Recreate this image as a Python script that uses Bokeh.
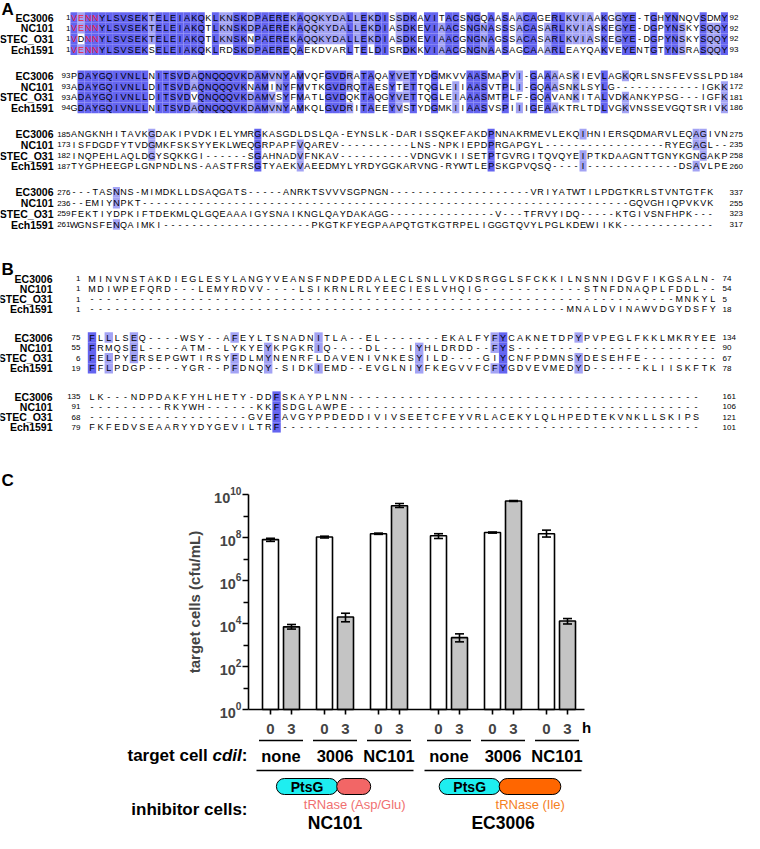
from bokeh.plotting import figure
from bokeh.models import Range1d, FixedTicker
from bokeh.embed import file_html
from bokeh.resources import INLINE
from bokeh.core.properties import value

FONT = "Liberation Sans"
NAMES = ["EC3006", "NC101", "STEC_O31", "Ech1591"]

# ---------------- Panel A alignment ----------------
A1_SEQ = [
    "VENNYLSVSEKTELEIAKQKLKNSKDPAEREKAQQKYDALLEKDISSDKAVITACSNGQAASAACAGERLKVIAAKGGYE-TGHYNNQVSDMY",
    "VENNYLSVSEKTELEIAKQTLKNSKDPAEREKAQQKYDALLEKDIASDKEVIAACSNGNASSSACASARLKVIASKEGYE-DGPYNSKYSQQY",
    "VDNNYLSVSEKTELEIAKQTLKNSKNPAEREKAQQKYDALLEKDIASDKEVIAACGNGNAGSSACASARLKVIASKEGYE-DGPYNSKYSQQY",
    "VENNYLSVSEKSELEIAKQKLRDSKDPAEREQAEKDVARLTELDISRDKKVIAACGNGNAASAGCAAARLEAYQAKVEYENTGTYNSRASQQY",
]
A1_START = [1, 1, 1, 1]
A1_END = [92, 92, 92, 93]
A1_MOTIF = "VENN"

A2_SEQ = [
    "PDAYGQIVNLLNITSVDAQNQQQVKDAMVNYAMVQFGVDRATAQAYVETYDGMKVVAASMAPVI-GAAAASKIEVLAGKQRLSNSFEVSSLPD",
    "ADAYGQIVNLLDITSVDAQNQQQVKNAMINYFMVTKGVDRQTAESYTETTQGLEIIAASVTPLI-GQAASNKLSYLG" + "-" * 12 + "IGKK",
    "ADAYGQIVNLLDITSVDVQNQQQVKDAMVSYFMATLGVDQKTAQGYVETTQGLEIAAASMTPLF-GQAVANKITALVDKANKYPSG---IGFK",
    "GDAYGQIVNLLNITSVDAQNQQQVKDAMVNYAMKQLGVDRITAEEYVSTYDGMKIIAASVSPIIIGEAAKTRLTDLVGKVNSSEVGQTSRIVK",
]
A2_START = [93, 93, 93, 94]
A2_END = [184, 172, 181, 186]

A3_SEQ = [
    "ANGKNHITAVKGDAKIPVDKIELYMRGKASGDLDSLQA-EYNSLK-DARISSQKEFAKDPNNAKRMEVLEKQIHNIERSQDMARVLEQAGIVN",
    "ISFDGDFYTVDGMKFSKSYYEKLWEQGRPAPFVQAREV" + "-" * 10 + "LNS-NPKIEPDPRGAPGYL" + "-" * 17 + "RYEGAGL--",
    "INQPEHLAQLDGYSQKKGI" + "-" * 6 + "SGAHNADVFNKAV" + "-" * 10 + "VDNGVKIISETPTGVRGITQVQYEIPTKDAAGNTTGNYKGNGAKP",
    "TYGPHEEGPLGNPNDLNS-AASTFRSGTYAEKVAEEDMYLYRDYGGKARVNG-RYWTLEPSKGPVQSQ----I" + "-" * 13 + "DSAVLPE",
]
A3_START = [185, 173, 182, 187]
A3_END = [275, 235, 258, 260]

A4_SEQ = [
    "---TASNNS-MIMDKLLDSAQGATS-----ANRKTSVVVSGPNGN" + "-" * 20 + "VRIYATWTILPDGTKRLSTVNTGTFK",
    "--EMIYNPKT" + "-" * 69 + "GQVGHIQPVKVK",
    "FEKTIYDPKIFTDEKMLQLGQEAAAIGYSNAIKNGLQAYDAKAGG" + "-" * 15 + "V---TFRVYIDQ-----KTGIVSNFHPK---",
    "WGNSFENQAIMKI" + "-" * 21 + "PKGTKFYEGPAAPQTGTKGTRPELIGGGTQVYLPGLKDEWIIKK" + "-" * 13,
]
A4_START = [276, 236, 259, 261]
A4_END = [337, 255, 323, 317]

# ---------------- Panel B alignment ----------------
B1_SEQ = [
    "MINVNSTAKDIEGLESYLANGYVEANSFNDPEDDALECLSNLLVKDSRGGLSFCKKILNSNNIDGVFIKGSALN-",
    "MDIWPEFQRD---LEMYRDVV----LSIKRNLRLYEECIESLVHQIG" + "-" * 12 + "STNFDNAQPLFDDL--",
    "-" * 70 + "MNKYL",
    "-" * 57 + "MNALDVINAWVDGYDSFY",
]
B1_START = [1, 1, 1, 1]
B1_END = [74, 54, 5, 18]

B2_SEQ = [
    "FLLLSEQ----WSY--AFEYLTSNADNITLA--EL-------EKALFYFYCAKNETDPYPVPEGLFKKLMKRYEE",
    "FRMQSEL----ATM--LYKYEYKPGKRIQ----DL---IYHLDRDD--FYS" + "-" * 24,
    "FELPYERSEPGWTIRSYFDLMYNENRFLDAVENIVNKESYILD----GIYCNFPDMNSYDESEHFE" + "-" * 9,
    "FFLPDGP----YGR--PFDNQY-SIDKIEMD--EVGLNIYFKEGVVFCFYGDVEVMEDYD------KLIISKFTK",
]
B2_START = [75, 55, 6, 19]
B2_END = [134, 90, 67, 78]

B3_SEQ = [
    "LK---NDPDAKFYHLHETY-DDFSKAYPLNN" + "-" * 42,
    "-" * 9 + "RKYWH------KKFSDGLAWPE" + "-" * 42,
    "-" * 19 + "GVEFAVGYPPDEDDIVIVSEETCFEYVRLACEKYLQLHPEDTEKVNKLLSKIPS",
    "FKFEDVSEAARYYDYGEVILTRF" + "-" * 50,
]
B3_START = [135, 91, 68, 79]
B3_END = [161, 106, 121, 101]

# ---------------- Panel C data ----------------
INHIBITORS = ["NC101", "EC3006"]
INHIBITOR_TRNASE = ["tRNase (Asp/Glu)", "tRNase (Ile)"]
TARGETS = ["none", "3006", "NC101"]
TIMES = ["0", "3"]
CFU_0H = [8.0e7, 1.05e8, 1.5e8, 1.2e8, 1.7e8, 1.5e8]
CFU_0H_LO = [6.6e7, 9.5e7, 1.4e8, 9.0e7, 1.6e8, 1.05e8]
CFU_0H_HI = [9.2e7, 1.15e8, 1.6e8, 1.5e8, 1.8e8, 2.2e8]
CFU_3H = [7.0e3, 2.0e4, 3.0e9, 2.2e3, 5.0e9, 1.3e4]
CFU_3H_LO = [5.5e3, 1.2e4, 2.5e9, 1.4e3, 4.7e9, 9.5e3]
CFU_3H_HI = [9.0e3, 3.0e4, 3.8e9, 3.3e3, 5.3e9, 1.7e4]
Y_TICKS = [1e0, 1e2, 1e4, 1e6, 1e8, 1e10]
Y_MINOR = [1e1, 1e3, 1e5, 1e7, 1e9]

# ---------------- styling ----------------
SHADE = {4: "#6464f0", 3: "#a3a3f4"}
MOTIF_RED = "#e8203a"
CYAN = "#1eeef0"
TRNASE_FILL = ["#f26666", "#ff6600"]
TRNASE_TEXT = ["#f07070", "#f5801e"]

W = 744
Y_SPLIT = 470     # ref y where the alignment figure ends
Y_BOTTOM = 841


def txt(p, x, y, text, size, align="center", style="normal", color="black"):
    p.text(x=x, y=y, text=text, text_font=value(FONT), text_font_size=size,
           text_font_style=style, text_color=color, text_align=align, text_baseline="middle")


def block(p, seqs, starts, ends, y0, geo, motif=""):
    x0, dx, dy, name_x, num_x, end_x, fs = geo
    ncol = max(len(s) for s in seqs)
    seqs = [s.ljust(ncol, "-") for s in seqs]
    rx, ry, rc = [], [], []
    tx, ty, tt, tc = [], [], [], []
    for c in range(ncol):
        col = [s[c] for s in seqs]
        counts = {}
        for ch in col:
            if ch != "-":
                counts[ch] = counts.get(ch, 0) + 1
        for r, ch in enumerate(col):
            x = x0 + c * dx
            y = y0 + r * dy
            n = counts.get(ch, 0)
            if n >= 3:
                rx.append(x); ry.append(y); rc.append(SHADE[n])
            tx.append(x); ty.append(y); tt.append(ch)
            tc.append(MOTIF_RED if (c < len(motif) and ch == motif[c]) else "black")
    p.rect(x=rx, y=ry, width=dx, height=dy, fill_color=rc, line_color=None)
    p.text(x=tx, y=ty, text=tt, text_color=tc, text_font=value(FONT), text_font_size=fs,
           text_align="center", text_baseline="middle")
    ys = [y0 + r * dy for r in range(len(seqs))]
    txt(p, [name_x] * len(ys), ys, NAMES, "10.5px", align="right", style="bold")
    txt(p, [num_x] * len(ys), ys, [str(v) for v in starts], "8px", align="right")
    txt(p, [end_x] * len(ys), ys, [str(v) for v in ends], "8px", align="left")


# ---------------- figure 1: panels A and B ----------------
pab = figure(width=W, height=Y_SPLIT - 8, x_range=Range1d(8, 752), y_range=Range1d(Y_SPLIT, 8),
             output_backend="svg", toolbar_location=None, min_border=0,
             x_axis_location=None, y_axis_location=None)
pab.grid.visible = False
pab.outline_line_color = None

A_GEO = (81.5, 7.07, 10.7, 61, 78, 737, "9px")
B_GEO = (99.5, 8.39, 10.3, 60, 88, 730, "9px")
A_Y0, A_PITCH = 25, 58.3
B_Y0, B_PITCH = 286, 59

for i, (s, a, b) in enumerate([(A1_SEQ, A1_START, A1_END), (A2_SEQ, A2_START, A2_END),
                               (A3_SEQ, A3_START, A3_END), (A4_SEQ, A4_START, A4_END)]):
    block(pab, s, a, b, A_Y0 + i * A_PITCH, A_GEO, motif=A1_MOTIF if i == 0 else "")
for i, (s, a, b) in enumerate([(B1_SEQ, B1_START, B1_END), (B2_SEQ, B2_START, B2_END),
                               (B3_SEQ, B3_START, B3_END)]):
    block(pab, s, a, b, B_Y0 + i * B_PITCH, B_GEO)

txt(pab, [9, 9], [17, 277], ["A", "B"], "17px", align="left", style="bold")

# ---------------- figure 2: panel C ----------------
Y10_PX, Y0_PX = 502, 717
DEC = (Y0_PX - Y10_PX) / 10.0


def ly(py):
    return 10 ** ((Y0_PX - py) / DEC)


AXIS_X = 256
X_FIRST, PAIR_DX, GROUP_DX, SET_GAP, BAR_W = 277.6, 21.2, 54.3, 5, 16
xw, xg = [], []
for i in range(len(CFU_0H)):
    x = X_FIRST + i * GROUP_DX + (i // len(TARGETS)) * SET_GAP
    xw.append(round(x))
    xg.append(round(x + PAIR_DX))

pc = figure(width=W, height=Y_BOTTOM - Y_SPLIT, x_range=Range1d(8, 752),
            y_range=Range1d(ly(Y_BOTTOM), ly(Y_SPLIT)),
            y_axis_type="log", output_backend="svg", toolbar_location=None, min_border=0)
pc.grid.visible = False
pc.outline_line_color = None

ax = pc.yaxis[0]
ax.fixed_location = AXIS_X
ax.bounds = (Y_TICKS[0], Y_TICKS[-1])
ax.ticker = FixedTicker(ticks=Y_TICKS, minor_ticks=Y_MINOR)
ax.axis_label = "target cells (cfu/mL)"
ax.axis_label_text_font = FONT
ax.axis_label_text_font_size = "15px"
ax.axis_label_text_font_style = "bold"
ax.axis_label_standoff = 8
ax.major_label_text_font = FONT
ax.major_label_text_font_size = "14.5px"
ax.major_label_text_font_style = "bold"
ax.major_label_standoff = 1
ax.axis_line_width = 1.6
ax.major_tick_line_width = 1.6
ax.minor_tick_line_width = 1.6
ax.major_tick_in = 0
ax.major_tick_out = 6
ax.minor_tick_in = 0
ax.minor_tick_out = 5

bx = pc.xaxis[0]
bx.fixed_location = Y_TICKS[0]
bx.bounds = (AXIS_X, xg[-1] + 17)
bx.ticker = FixedTicker(ticks=xw + xg)
bx.major_label_overrides = {**{x: TIMES[0] for x in xw}, **{x: TIMES[1] for x in xg}}
bx.major_label_text_font = FONT
bx.major_label_text_font_size = "15px"
bx.major_label_text_font_style = "bold"
bx.major_label_standoff = 9
bx.axis_line_width = 1.6
bx.major_tick_line_width = 1.6
bx.major_tick_in = 0
bx.major_tick_out = 5
bx.minor_tick_out = 0
bx.minor_tick_in = 0

pc.vbar(x=xw, top=CFU_0H, bottom=1, width=BAR_W, fill_color="white", line_color="black", line_width=1.6)
pc.vbar(x=xg, top=CFU_3H, bottom=1, width=BAR_W, fill_color="#c4c4c4", line_color="black", line_width=1.6)
ex = xw + xg
elo = CFU_0H_LO + CFU_3H_LO
ehi = CFU_0H_HI + CFU_3H_HI
cap = 4.5
pc.segment(x0=ex, y0=elo, x1=ex, y1=ehi, line_color="black", line_width=1.6)
pc.segment(x0=[x - cap for x in ex], y0=ehi, x1=[x + cap for x in ex], y1=ehi, line_color="black", line_width=1.6)
pc.segment(x0=[x - cap for x in ex], y0=elo, x1=[x + cap for x in ex], y1=elo, line_color="black", line_width=1.6)

txt(pc, [9], [ly(488)], ["C"], "17px", align="left", style="bold")
txt(pc, [xg[-1] + 19], [ly(735)], ["h"], "15px", style="bold")

# short lines and target labels
pc.segment(x0=[x - 11.5 for x in xw], y0=[ly(748)] * len(xw), x1=[x + 11.5 for x in xg],
           y1=[ly(748)] * len(xw), line_color="black", line_width=1.5)
txt(pc, [(a + b) / 2 for a, b in zip(xw, xg)], [ly(763)] * len(xw), TARGETS * len(INHIBITORS),
    "16.5px", style="bold")

SHAPE_CYAN = [(-58.6, 2.7), (-63.8, -2.8)]
SHAPE_TRNASE = [(1.7, 35.7), (-3.8, 57.8)]
TEXT_DX = [19.7, 27.2]
for s, name in enumerate(INHIBITORS):
    left = xw[s * 3] - 14
    right = xg[s * 3 + 2] + 14
    sc = (left + right) / 2
    pc.segment(x0=[left], y0=[ly(778)], x1=[right], y1=[ly(778)], line_color="black", line_width=1.5)
    c0, c1 = SHAPE_CYAN[s]
    t0, t1 = SHAPE_TRNASE[s]
    pc.quad(left=[sc + c0], right=[sc + c1], top=[ly(786)], bottom=[ly(802)], border_radius=8,
            fill_color=CYAN, line_color="black", line_width=1.0)
    pc.quad(left=[sc + t0], right=[sc + t1], top=[ly(786)], bottom=[ly(802)], border_radius=8,
            fill_color=TRNASE_FILL[s], line_color="black", line_width=1.0)
    txt(pc, [sc + (c0 + c1) / 2], [ly(794)], ["PtsG"], "14px", style="bold")
    txt(pc, [sc + TEXT_DX[s]], [ly(812)], [INHIBITOR_TRNASE[s]], "13px", color=TRNASE_TEXT[s])
    txt(pc, [sc], [ly(830)], [name], "17.5px", style="bold")

R = AXIS_X - 1
txt(pc, [R], [ly(763)], [":"], "17px", align="right", style="bold")
txt(pc, [R - 5.7], [ly(763)], ["cdiI"], "17px", align="right", style="bold italic")
txt(pc, [R - 5.7 - 29.3 - 4.7], [ly(763)], ["target cell"], "17px", align="right", style="bold")
txt(pc, [R], [ly(817)], ["inhibitor cells:"], "17px", align="right", style="bold")

open("out.html", "w").write(file_html([pab, pc], INLINE))
